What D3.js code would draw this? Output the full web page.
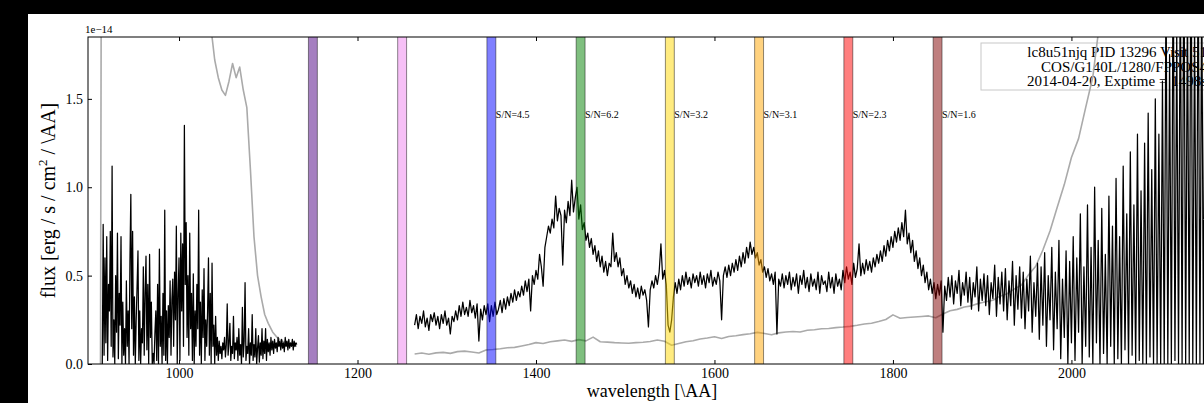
<!DOCTYPE html>
<html>
<head>
<meta charset="utf-8">
<style>
  body { margin: 0; background: #000; }
  svg text { font-family: "Liberation Serif", "DejaVu Serif", serif; fill: #000; }
</style>
<title>lc8u51njq spectrum</title>
</head>
<body>
<script src="https://cdn.jsdelivr.net/npm/d3@7"></script>
<script>
// ---- data (flux in units of 1e-14 erg/s/cm2/AA) ----
// black spectrum, short wavelength piece: 914 AA onwards, every 1 AA
var leftStart = 914, leftStep = 1;
var leftFlux = [
  0.00, 0.79, 0.05, 0.60, 0.12, 0.72, 0.02, 0.45, 0.30, 0.75,
  0.10, 1.12, 0.04, 0.25, 0.00, 0.50, 0.18, 0.74, 0.03, 0.40,
  0.22, 0.72, 0.00, 0.35, 0.05, 0.20, 0.00, 0.47, 0.10, 0.30,
  0.00, 0.58, 0.96, 0.20, 0.75, 0.05, 0.38, 0.00, 0.25, 0.44,
  0.64, 0.02, 0.30, 0.00, 0.20, 0.12, 0.55, 0.05, 0.40, 0.61,
  0.08, 0.45, 0.00, 0.62, 0.15, 0.35, 0.00, 0.06, 0.00, 0.18,
  0.30, 0.02, 0.45, 0.00, 0.65, 0.10, 0.27, 0.00, 0.40, 0.05,
  0.87, 0.02, 0.30, 0.00, 0.33, 0.15, 0.47, 0.05, 0.36, 0.48,
  0.10, 0.52, 0.25, 0.78, 0.00, 0.40, 0.60, 0.02, 0.74, 0.30,
  0.68, 0.10, 1.35, 0.45, 0.80, 0.15, 0.50, 0.05, 0.74, 0.20,
  0.40, 0.02, 0.51, 0.00, 0.30, 0.10, 0.45, 0.20, 0.87, 0.05,
  0.35, 0.00, 0.42, 0.15, 0.54, 0.02, 0.25, 0.10, 0.30, 0.60,
  0.05, 0.40, 0.00, 0.57, 0.10, 0.22, 0.00, 0.27, 0.05, 0.15,
  0.02, 0.13, 0.06, 0.10, 0.03, 0.12, 0.08, 0.15, 0.04, 0.11,
  0.34, 0.05, 0.12, 0.23, 0.02, 0.10, 0.06, 0.27, 0.03, 0.12,
  0.08, 0.15, 0.02, 0.20, 0.05, 0.11, 0.00, 0.32, 0.04, 0.13,
  0.46, 0.02, 0.10, 0.06, 0.20, 0.00, 0.12, 0.05, 0.28, 0.02,
  0.11, 0.04, 0.20, 0.00, 0.09, 0.16, 0.01, 0.12, 0.05, 0.20,
  0.03, 0.13, 0.06, 0.20, 0.02, 0.14, 0.07, 0.12, 0.05, 0.15,
  0.08, 0.13, 0.06, 0.14, 0.09, 0.12, 0.07, 0.15, 0.10, 0.13,
  0.08, 0.14, 0.09, 0.12, 0.07, 0.15, 0.10, 0.13, 0.08, 0.14,
  0.09, 0.12, 0.10, 0.14, 0.08, 0.13, 0.10, 0.12, 0.11
];

// black spectrum, main piece: 1264 AA onwards, every 2 AA
var mainStart = 1264, mainStep = 2;
var mainFlux = [
  0.22, 0.28, 0.20, 0.27, 0.23, 0.30, 0.21, 0.26, 0.19, 0.28,
  0.24, 0.29, 0.22, 0.27, 0.20, 0.28, 0.23, 0.30, 0.22, 0.26,
  0.17, 0.27, 0.24, 0.30, 0.25, 0.33, 0.27, 0.35, 0.28, 0.32,
  0.27, 0.36, 0.29, 0.33, 0.26, 0.34, 0.13, 0.31, 0.25, 0.33,
  0.28, 0.34, 0.24, 0.33, 0.27, 0.35, 0.28, 0.31, 0.36, 0.29,
  0.37, 0.31, 0.38, 0.33, 0.40, 0.35, 0.42, 0.36, 0.41, 0.38,
  0.44, 0.39, 0.47, 0.41, 0.48, 0.30, 0.50, 0.45, 0.53, 0.48,
  0.62, 0.55, 0.44, 0.66, 0.72, 0.78, 0.74, 0.82, 0.77, 0.95,
  0.81, 0.88, 0.84, 0.56, 0.87, 0.80, 0.92, 0.84, 1.04, 0.86,
  0.94, 1.00, 0.82, 0.90, 0.76, 0.80, 0.70, 0.74, 0.66, 0.71,
  0.62, 0.67, 0.58, 0.64, 0.55, 0.61, 0.52, 0.58, 0.50, 0.57,
  0.55, 0.74, 0.58, 0.63, 0.55, 0.60, 0.50, 0.54, 0.45, 0.50,
  0.43, 0.47, 0.40, 0.45, 0.38, 0.43, 0.37, 0.44, 0.39, 0.42,
  0.36, 0.21, 0.42, 0.47, 0.43, 0.50, 0.45, 0.52, 0.68, 0.48,
  0.53, 0.45, 0.22, 0.18, 0.25, 0.38, 0.46, 0.40, 0.48, 0.42,
  0.50, 0.44, 0.52, 0.45, 0.49, 0.43, 0.51, 0.46, 0.50, 0.44,
  0.52, 0.45, 0.50, 0.43, 0.51, 0.46, 0.53, 0.44, 0.49, 0.45,
  0.52, 0.47, 0.25, 0.50, 0.55, 0.49, 0.56, 0.50, 0.57, 0.52,
  0.59, 0.53, 0.61, 0.55, 0.63, 0.57, 0.66, 0.60, 0.69, 0.62,
  0.66, 0.60, 0.63, 0.56, 0.59, 0.52, 0.55, 0.49, 0.54, 0.47,
  0.51, 0.45, 0.52, 0.17, 0.48, 0.44, 0.51, 0.43, 0.50, 0.45,
  0.52, 0.42, 0.49, 0.44, 0.51, 0.40, 0.50, 0.45, 0.53, 0.43,
  0.49, 0.41, 0.51, 0.44, 0.48, 0.42, 0.52, 0.40, 0.50, 0.45,
  0.47, 0.41, 0.52, 0.43, 0.49, 0.40, 0.51, 0.44, 0.48, 0.42,
  0.53, 0.46, 0.55, 0.48, 0.52, 0.45, 0.57, 0.49, 0.54, 0.68,
  0.50, 0.57, 0.51, 0.59, 0.53, 0.58, 0.52, 0.60, 0.55, 0.62,
  0.57, 0.64, 0.58, 0.67, 0.61, 0.70, 0.64, 0.72, 0.66, 0.75,
  0.69, 0.77, 0.70, 0.80, 0.72, 0.87, 0.68, 0.74, 0.63, 0.70,
  0.58, 0.64, 0.54, 0.60, 0.50, 0.56, 0.46, 0.52, 0.42, 0.48,
  0.40, 0.46, 0.37, 0.45, 0.39, 0.47, 0.18, 0.44, 0.36, 0.49,
  0.38, 0.50, 0.34, 0.47, 0.40, 0.53, 0.33, 0.46, 0.39, 0.52,
  0.35, 0.49, 0.31, 0.46, 0.38, 0.55, 0.30, 0.48, 0.36, 0.51,
  0.33, 0.50, 0.28, 0.46, 0.37, 0.56, 0.27, 0.49, 0.34, 0.52,
  0.30, 0.54, 0.25, 0.47, 0.33, 0.58, 0.22, 0.50, 0.31, 0.55,
  0.26, 0.52, 0.20, 0.48, 0.30, 0.61, 0.18, 0.46, 0.27, 0.57,
  0.14, 0.55, 0.22, 0.63, 0.10, 0.50, 0.25, 0.66, 0.08, 0.52,
  0.20, 0.70, 0.03, 0.48, 0.15, 0.64, 0.00, 0.58, 0.12, 0.72,
  0.02, 0.60, 0.18, 0.85, 0.00, 0.55, 0.10, 0.90, 0.04, 0.66,
  0.00, 1.00, 0.12, 0.70, 0.00, 0.88, 0.06, 0.62, 0.00, 0.95,
  0.10, 0.78, 0.00, 1.05, 0.03, 0.72, 0.00, 1.12, 0.08, 0.85,
  0.00, 1.20, 0.05, 0.90, 0.00, 1.30, 0.02, 0.98, 0.00, 1.25,
  0.00, 1.42, 0.04, 1.10, 0.00, 1.50, 0.00, 1.30, 0.00, 1.60,
  0.00, 2.20, 0.00, 1.75, 0.00, 2.40, 0.02, 1.90, 0.00, 2.30,
  0.00, 2.50, 0.00, 2.10, 0.00, 2.60, 0.00, 1.95, 0.00, 2.40,
  0.00, 2.20, 0.00, 2.50, 0.00, 2.30, 0.00, 2.60, 0.00, 2.40,
  0.00
];

// grey curve, short wavelength piece (goes off the top of the axes)
var greyLeftWave = [912, 913, 1030, 1037, 1040, 1044, 1048, 1052, 1056, 1060,
  1064, 1068, 1072, 1076, 1080, 1084, 1088, 1092, 1096, 1100,
  1105, 1110, 1115, 1120, 1125, 1132];
var greyLeftFlux = [0.00, 2.60, 2.50, 1.85, 1.72, 1.62, 1.55, 1.52, 1.60, 1.70,
  1.62, 1.68, 1.55, 1.45, 1.10, 0.72, 0.50, 0.38, 0.28, 0.23,
  0.18, 0.15, 0.13, 0.12, 0.11, 0.10];

// grey curve, main piece: 1264 AA onwards, every 8 AA
var greyStart = 1264, greyStep = 8;
var greyFlux = [
  0.057, 0.062, 0.055, 0.063, 0.066, 0.060, 0.070, 0.073, 0.068, 0.062,
  0.079, 0.082, 0.086, 0.092, 0.094, 0.102, 0.110, 0.121, 0.116, 0.126,
  0.131, 0.136, 0.128, 0.138, 0.131, 0.152, 0.126, 0.124, 0.121, 0.119,
  0.117, 0.121, 0.123, 0.127, 0.136, 0.129, 0.106, 0.116, 0.126, 0.132,
  0.141, 0.147, 0.154, 0.144, 0.156, 0.160, 0.166, 0.171, 0.179, 0.173,
  0.165, 0.176, 0.181, 0.184, 0.181, 0.191, 0.194, 0.199, 0.201, 0.206,
  0.209, 0.213, 0.219, 0.226, 0.231, 0.241, 0.252, 0.278, 0.259, 0.263,
  0.266, 0.269, 0.272, 0.262, 0.283, 0.301, 0.309, 0.322, 0.329, 0.343,
  0.352, 0.361, 0.383, 0.398, 0.424, 0.447, 0.505, 0.553, 0.645, 0.752,
  0.885, 1.015, 1.168, 1.275, 1.452, 1.625, 1.950, 2.300
];

// shaded windows and their S/N
var bandCenters = [1150, 1250, 1350, 1450, 1550, 1650, 1750, 1850];
var bandColors = ["indigo", "violet", "blue", "green", "gold", "orange", "red", "#800000"];
var snLabels = [null, null, "S/N=4.5", "S/N=6.2", "S/N=3.2", "S/N=3.1", "S/N=2.3", "S/N=1.6"];

var xTicks = [1000, 1200, 1400, 1600, 1800, 2000];
var yTicks = [0.0, 0.5, 1.0, 1.5];

var legendLines = ["lc8u51njq PID 13296 Visit 51", "COS/G140L/1280/FPPOS4", "2014-04-20, Exptime = 1498s"];

// ---- layout ----
var width = 1204, height = 403;
var plotLeft = 88, plotRight = 1216, plotTop = 37, plotBottom = 364;
var bandHalf = 5;

var x = d3.scaleLinear().domain([898, 2162]).range([plotLeft, plotRight]);
var y = d3.scaleLinear().domain([0, 1.85]).range([plotBottom, plotTop]);

var svg = d3.select("body").append("svg")
  .attr("width", width)
  .attr("height", height)
  .style("display", "block");

// white figure area (black strip top and left)
svg.append("rect")
  .attr("x", 28).attr("y", 14)
  .attr("width", width - 28).attr("height", height - 14)
  .attr("fill", "#fff");

svg.append("defs").append("clipPath").attr("id", "plotclip")
  .append("rect")
  .attr("x", plotLeft).attr("y", plotTop)
  .attr("width", plotRight - plotLeft).attr("height", plotBottom - plotTop);

var plot = svg.append("g").attr("clip-path", "url(#plotclip)");

// legend box with the observation info
plot.append("rect")
  .attr("x", 981).attr("y", 43)
  .attr("width", 240).attr("height", 47)
  .attr("fill", "#fff")
  .attr("stroke", "#c8c8c8");

plot.append("g").selectAll("text")
  .data(legendLines)
  .enter()
  .append("text")
  .attr("x", 1207)
  .attr("y", function(d, i) { return 57 + i * 14.7; })
  .attr("text-anchor", "end")
  .style("font-size", "15px")
  .text(function(d) { return d; });

function onGrid(start, step, values) {
  return values.map(function(v, i) { return [start + i * step, v]; });
}

var line = d3.line()
  .x(function(d) { return x(d[0]); })
  .y(function(d) { return y(d[1]); });

// grey curve
var greyPieces = [
  greyLeftWave.map(function(w, i) { return [w, greyLeftFlux[i]]; }),
  onGrid(greyStart, greyStep, greyFlux)
];
plot.selectAll("path.grey")
  .data(greyPieces)
  .enter()
  .append("path")
  .attr("class", "grey")
  .attr("d", line)
  .attr("fill", "none")
  .attr("stroke", "#aaaaaa")
  .attr("stroke-width", 1.6)
  .attr("stroke-linejoin", "round");

// black spectrum
var blackPieces = [
  onGrid(leftStart, leftStep, leftFlux),
  onGrid(mainStart, mainStep, mainFlux)
];
plot.selectAll("path.flux")
  .data(blackPieces)
  .enter()
  .append("path")
  .attr("class", "flux")
  .attr("d", line)
  .attr("fill", "none")
  .attr("stroke", "#000")
  .attr("stroke-width", 1.25)
  .attr("stroke-linejoin", "round");

// shaded windows, drawn over the data
plot.selectAll("rect.band")
  .data(bandCenters)
  .enter()
  .append("rect")
  .attr("class", "band")
  .attr("x", function(d) { return x(d - bandHalf); })
  .attr("width", function(d) { return x(d + bandHalf) - x(d - bandHalf); })
  .attr("y", plotTop - 3)
  .attr("height", plotBottom - plotTop + 6)
  .attr("fill", function(d, i) { return bandColors[i]; })
  .attr("fill-opacity", 0.5)
  .attr("stroke", "#000")
  .attr("stroke-opacity", 0.45);

plot.selectAll("text.sn")
  .data(bandCenters.filter(function(d, i) { return snLabels[i]; }))
  .enter()
  .append("text")
  .attr("class", "sn")
  .attr("x", function(d) { return x(d + bandHalf); })
  .attr("y", y(1.39))
  .style("font-size", "10px")
  .text(function(d) { return snLabels[bandCenters.indexOf(d)]; });

// axes frame
svg.append("rect")
  .attr("x", plotLeft).attr("y", plotTop)
  .attr("width", plotRight - plotLeft).attr("height", plotBottom - plotTop)
  .attr("fill", "none")
  .attr("stroke", "#000");

function styleAxis(g) {
  g.select(".domain").remove();
  g.attr("font-family", "Liberation Serif, DejaVu Serif, serif").attr("font-size", 14);
}

svg.append("g")
  .attr("transform", "translate(0," + plotBottom + ")")
  .call(d3.axisBottom(x).tickValues(xTicks).tickSizeInner(-4).tickSizeOuter(0)
    .tickPadding(4).tickFormat(d3.format("d")))
  .call(styleAxis);

svg.append("g")
  .attr("transform", "translate(0," + plotTop + ")")
  .call(d3.axisTop(x).tickValues(xTicks).tickSizeInner(-4).tickSizeOuter(0).tickFormat(""))
  .call(styleAxis);

svg.append("g")
  .attr("transform", "translate(" + plotLeft + ",0)")
  .call(d3.axisLeft(y).tickValues(yTicks).tickSizeInner(-4).tickSizeOuter(0)
    .tickPadding(5).tickFormat(d3.format(".1f")))
  .call(styleAxis);

// offset text
svg.append("text")
  .attr("x", 85).attr("y", 33)
  .style("font-size", "11px")
  .text("1e\u221214");

// axis labels
svg.append("text")
  .attr("x", (plotLeft + plotRight) / 2)
  .attr("y", 397)
  .attr("text-anchor", "middle")
  .style("font-size", "18px")
  .text("wavelength [\\AA]");

var ylab = svg.append("text")
  .attr("transform", "translate(55," + (plotTop + plotBottom) / 2 + ") rotate(-90)")
  .attr("text-anchor", "middle")
  .style("font-size", "20px");
ylab.append("tspan").text("flux [erg / s / cm");
ylab.append("tspan").attr("dy", -8).style("font-size", "13px").text("2");
ylab.append("tspan").attr("dy", 8).text(" / \\AA]");
</script>
</body>
</html>
